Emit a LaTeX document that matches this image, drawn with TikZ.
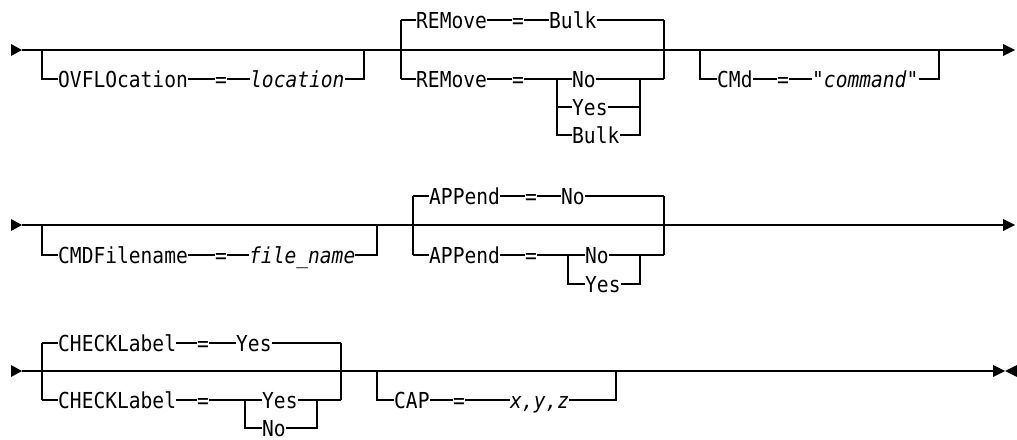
\documentclass[tikz,border=0pt]{standalone}
\usepackage{fontspec}
\newfontfamily\rrfont[FakeStretch=0.89]{DejaVu Sans Mono}
\begin{document}
\begin{tikzpicture}[x=1pt,y=-1pt,
  kw/.style={font=\rrfont\fontsize{22}{24}\selectfont, inner sep=0pt, anchor=west, text height=16pt, text depth=0pt},
  var/.style={kw, font=\rrfont\itshape\fontsize{22}{24}\selectfont},
  rail/.style={line width=1.2pt, line join=miter},
  tipfill/.style={fill=black}]
\useasboundingbox (0,0) rectangle (1017,439);

% ================= Row 1 =================
\coordinate (a1s) at (22,50); \coordinate (a1e) at (1003,50);
\fill[tipfill] (11,44) -- (a1s) -- (11,56) -- cycle;
\fill[tipfill] (1003,44) -- (1015,50) -- (1003,56) -- cycle;
\draw[rail] (a1s) -- (a1e);

% OVFLOcation
\coordinate (o1) at (42,50); \coordinate (o2) at (42,79);
\node[kw] (ovfl) at (58,79) {OVFLOcation};
\node[kw] (ovfleq) at (215,79) {=};
\node[var] (ovflv) at (250,79) {location};
\coordinate (o3) at (364,79); \coordinate (o4) at (364,50);
\draw[rail] (o1) -- (o2) -- (ovfl.west);
\draw[rail] (ovfl.east) -- (ovfleq.west);
\draw[rail] (ovfleq.east) -- (ovflv.west);
\draw[rail] (ovflv.east) -- (o3) -- (o4);

% REMove
\coordinate (r1) at (401,20); \coordinate (r2) at (401,79);
\coordinate (r3) at (664,20); \coordinate (r4) at (664,79);
\draw[rail] (r1) -- (r2);
\draw[rail] (r3) -- (r4);
\node[kw] (rt) at (416,20) {REMove};
\node[kw] (rteq) at (512,20) {=};
\node[kw] (rtv) at (549,20) {Bulk};
\draw[rail] (r1) -- (rt.west);
\draw[rail] (rt.east) -- (rteq.west);
\draw[rail] (rteq.east) -- (rtv.west);
\draw[rail] (rtv.east) -- (r3);
\node[kw] (rb) at (416,79) {REMove};
\node[kw] (rbeq) at (512,79) {=};
\coordinate (rj1) at (557,79); \coordinate (rj2) at (557,135);
\coordinate (rk1) at (640,79); \coordinate (rk2) at (640,135);
\node[kw] (rno) at (572,79) {No};
\node[kw] (ryes) at (572,107) {Yes};
\node[kw] (rbulk) at (572,135) {Bulk};
\draw[rail] (r2) -- (rb.west);
\draw[rail] (rb.east) -- (rbeq.west);
\draw[rail] (rbeq.east) -- (rj1) -- (rno.west);
\draw[rail] (rj1) -- (rj2) -- (rbulk.west);
\draw[rail] (rj1 |- ryes) -- (ryes.west);
\draw[rail] (rno.east) -- (rk1) -- (r4);
\draw[rail] (rk1) -- (rk2) -- (rbulk.east);
\draw[rail] (ryes.east) -- (rk1 |- ryes);

% CMd
\coordinate (c1) at (700,50); \coordinate (c2) at (700,79);
\node[kw] (cmd) at (717,79) {CMd};
\node[kw] (cmdeq) at (777,79) {=};
\node[var] (cmdv) at (812,79) {"command"};
\coordinate (c3) at (939,79); \coordinate (c4) at (939,50);
\draw[rail] (c1) -- (c2) -- (cmd.west);
\draw[rail] (cmd.east) -- (cmdeq.west);
\draw[rail] (cmdeq.east) -- (cmdv.west);
\draw[rail] (cmdv.east) -- (c3) -- (c4);

% ================= Row 2 =================
\coordinate (a2s) at (22,225); \coordinate (a2e) at (1003,225);
\fill[tipfill] (11,219) -- (a2s) -- (11,231) -- cycle;
\fill[tipfill] (1003,219) -- (1015,225) -- (1003,231) -- cycle;
\draw[rail] (a2s) -- (a2e);

% CMDFilename
\coordinate (f1) at (42,225); \coordinate (f2) at (42,255);
\node[kw] (cf) at (58,255) {CMDFilename};
\node[kw] (cfeq) at (215,255) {=};
\node[var] (cfv) at (249,255) {file\_name};
\coordinate (f3) at (377,255); \coordinate (f4) at (377,225);
\draw[rail] (f1) -- (f2) -- (cf.west);
\draw[rail] (cf.east) -- (cfeq.west);
\draw[rail] (cfeq.east) -- (cfv.west);
\draw[rail] (cfv.east) -- (f3) -- (f4);

% APPend
\coordinate (p1) at (413,196); \coordinate (p2) at (413,255);
\coordinate (p3) at (664,196); \coordinate (p4) at (664,255);
\draw[rail] (p1) -- (p2);
\draw[rail] (p3) -- (p4);
\node[kw] (pt) at (429,196) {APPend};
\node[kw] (pteq) at (525,196) {=};
\node[kw] (ptv) at (561,196) {No};
\draw[rail] (p1) -- (pt.west);
\draw[rail] (pt.east) -- (pteq.west);
\draw[rail] (pteq.east) -- (ptv.west);
\draw[rail] (ptv.east) -- (p3);
\node[kw] (pb) at (429,255) {APPend};
\node[kw] (pbeq) at (525,255) {=};
\coordinate (pj1) at (568,255); \coordinate (pj2) at (568,284);
\coordinate (pk1) at (640,255); \coordinate (pk2) at (640,284);
\node[kw] (pno) at (585,255) {No};
\node[kw] (pyes) at (585,284) {Yes};
\draw[rail] (p2) -- (pb.west);
\draw[rail] (pb.east) -- (pbeq.west);
\draw[rail] (pbeq.east) -- (pj1) -- (pno.west);
\draw[rail] (pj1) -- (pj2) -- (pyes.west);
\draw[rail] (pno.east) -- (pk1) -- (p4);
\draw[rail] (pk1) -- (pk2) -- (pyes.east);

% ================= Row 3 =================
\coordinate (a3s) at (22,371); \coordinate (a3e) at (993,371);
\fill[tipfill] (11,365) -- (a3s) -- (11,377) -- cycle;
\fill[tipfill] (993,365) -- (1005,371) -- (993,377) -- cycle;
\fill[tipfill] (1017,365) -- (1005,371) -- (1017,377) -- cycle;
\draw[rail] (a3s) -- (a3e);

% CHECKLabel
\coordinate (k1) at (42,343); \coordinate (k2) at (42,400);
\coordinate (k3) at (341,343); \coordinate (k4) at (341,400);
\draw[rail] (k1) -- (k2);
\draw[rail] (k3) -- (k4);
\node[kw] (kt) at (58,343) {CHECKLabel};
\node[kw] (kteq) at (197,343) {=};
\node[kw] (ktv) at (236,343) {Yes};
\draw[rail] (k1) -- (kt.west);
\draw[rail] (kt.east) -- (kteq.west);
\draw[rail] (kteq.east) -- (ktv.west);
\draw[rail] (ktv.east) -- (k3);
\node[kw] (kb) at (58,400) {CHECKLabel};
\node[kw] (kbeq) at (197,400) {=};
\coordinate (kj1) at (245,400); \coordinate (kj2) at (245,428);
\coordinate (kk1) at (317,400); \coordinate (kk2) at (317,428);
\node[kw] (kyes) at (262,400) {Yes};
\node[kw] (kno) at (262,428) {No};
\draw[rail] (k2) -- (kb.west);
\draw[rail] (kb.east) -- (kbeq.west);
\draw[rail] (kbeq.east) -- (kj1) -- (kyes.west);
\draw[rail] (kj1) -- (kj2) -- (kno.west);
\draw[rail] (kyes.east) -- (kk1) -- (k4);
\draw[rail] (kk1) -- (kk2) -- (kno.east);

% CAP
\coordinate (q1) at (377,371); \coordinate (q2) at (377,400);
\node[kw] (cap) at (394,400) {CAP};
\node[kw] (capeq) at (453,400) {=};
\node[var] (capv) at (510,400) {x,y,z};
\coordinate (q3) at (616,400); \coordinate (q4) at (616,371);
\draw[rail] (q1) -- (q2) -- (cap.west);
\draw[rail] (cap.east) -- (capeq.west);
\draw[rail] (capeq.east) -- (capv.west);
\draw[rail] (capv.east) -- (q3) -- (q4);
\end{tikzpicture}
\end{document}
